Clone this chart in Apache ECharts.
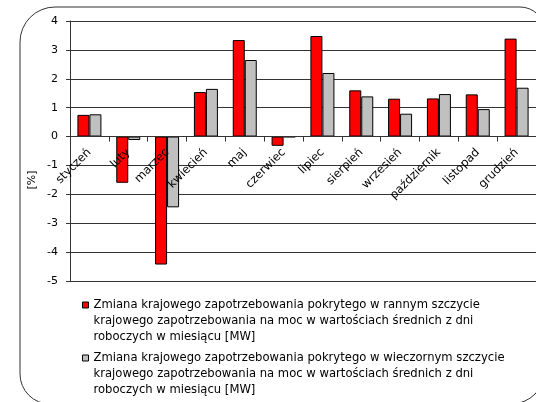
<!DOCTYPE html>
<html>
<head>
<meta charset="utf-8">
<script src="https://cdn.jsdelivr.net/npm/echarts@6/dist/echarts.min.js"></script>
<style>
  html, body { margin: 0; padding: 0; background: #fff; }
  #Bar { width: 536px; height: 402px; }
</style>
</head>
<body>
<div id="Bar"></div>
<script>
const categories = ['styczeń', 'luty', 'marzec', 'kwiecień', 'maj', 'czerwiec', 'lipiec', 'sierpień', 'wrzesień', 'październik', 'listopad', 'grudzień']
const morning = [0.75, -1.6, -4.43, 1.54, 3.34, -0.32, 3.48, 1.6, 1.31, 1.32, 1.46, 3.39]
const evening = [0.77, -0.12, -2.45, 1.65, 2.65, -0.02, 2.2, 1.39, 0.79, 1.47, 0.95, 1.69]
const yTicks = { min: -5, max: 4, step: 1 }
const seriesNames = [
  'Zmiana krajowego zapotrzebowania pokrytego w rannym szczycie\nkrajowego zapotrzebowania na moc w wartościach średnich z dni\nroboczych w miesiącu [MW]',
  'Zmiana krajowego zapotrzebowania pokrytego w wieczornym szczycie\nkrajowego zapotrzebowania na moc w wartościach średnich z dni\nroboczych w miesiącu [MW]'
]

const font = 'DejaVu Sans'
const gridTop = 21
const gridHeight = 260
// put the category axis on the zero line (onZero does not move it here)
const zeroOffset = -gridHeight * (0 - yTicks.min) / (yTicks.max - yTicks.min)

const Bar = echarts.init(document.getElementById('Bar'))

// legend text is centred on the icon: two blank lines on top put the icon by the first row
function legend(name, top) {
  return {
    data: [name],
    left: 82,
    top: top,
    padding: 0,
    icon: 'rect',
    itemWidth: 6,
    itemHeight: 6,
    itemStyle: { borderColor: '#000', borderWidth: 1 },
    formatter: n => '\n\n' + n,
    textStyle: { fontFamily: font, fontSize: 11.6, color: '#000', lineHeight: 16 }
  }
}

Bar.setOption({
  animation: false,
  color: ['#ff0000', '#c0c0c0'],
  textStyle: { fontFamily: font },
  graphic: [
    {
      type: 'rect',
      shape: { x: 20, y: 7, width: 525, height: 397, r: [35, 25, 34, 30] },
      style: { fill: 'none', stroke: '#333', lineWidth: 1 },
      z: -1
    },
    {
      type: 'text',
      x: 32,
      y: 180,
      rotation: Math.PI / 2,
      style: { text: '[%]', font: '11px "DejaVu Sans"', fill: '#000', align: 'center', verticalAlign: 'middle' }
    }
  ],
  legend: [legend(seriesNames[0], 265), legend(seriesNames[1], 318)],
  grid: {
    left: 70,
    top: gridTop,
    width: 467,
    height: gridHeight
  },
  xAxis: {
    type: 'category',
    data: categories,
    offset: zeroOffset,
    axisLine: { onZero: false, lineStyle: { color: '#333', width: 1 } },
    axisTick: { show: true, length: 5, lineStyle: { color: '#333' } },
    axisLabel: {
      rotate: 45,
      margin: 14,
      interval: 0,
      color: '#000',
      fontFamily: font,
      fontSize: 11.6
    },
    z: 5
  },
  yAxis: {
    type: 'value',
    min: yTicks.min,
    max: yTicks.max,
    interval: yTicks.step,
    axisLine: { show: true, lineStyle: { color: '#333', width: 1 } },
    axisTick: { show: true, length: 4, lineStyle: { color: '#333' } },
    axisLabel: { margin: 12, color: '#000', fontFamily: font, fontSize: 11 },
    splitLine: { lineStyle: { color: '#333', width: 1 } }
  },
  series: [
    {
      name: seriesNames[0],
      type: 'bar',
      barWidth: 12,
      barGap: '0%',
      itemStyle: { borderColor: '#000', borderWidth: 1 },
      data: morning
    },
    {
      name: seriesNames[1],
      type: 'bar',
      barWidth: 12,
      barGap: '0%',
      itemStyle: { borderColor: '#000', borderWidth: 1 },
      data: evening
    }
  ]
})
</script>
</body>
</html>
